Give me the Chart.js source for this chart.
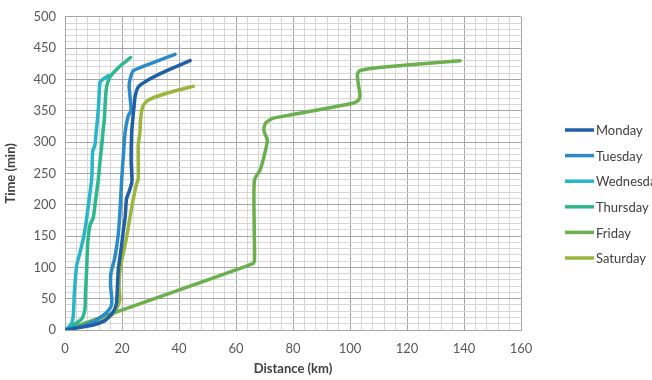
<!DOCTYPE html>
<html>
<head>
<meta charset="utf-8">
<script src="https://cdn.jsdelivr.net/npm/chart.js@4"></script>
<style>
html,body{margin:0;padding:0;background:#fff;overflow:hidden;}
#wrap{width:652px;height:380px;position:relative;}
</style>
</head>
<body>
<div id="wrap"><canvas id="c" width="652" height="380"></canvas></div>
<script>
// ---- data (distance km, time min) ----
const seriesNames = ["Monday","Tuesday","Wednesday","Thursday","Friday","Saturday"];
const seriesColors = ["#1f5fa6","#2b8bc8","#27b5c8","#2cb78c","#6ab04c","#9bb53d"];

const mondayDist = [0,5,9.9,14,15.8,17.3,18.1,18.4,18.7,19.3,19.9,20.5,21.1,21.4,21.6,22.8,23.5,23.2,23.4,24.0,24.3,24.6,25.7,28.7,35.7,43.9];
const mondayTime = [0,4,8,15,23,32,44,70,96,117,137,160,179,200,210,225,238,270,316,347,360,373,388,398,414,430];

const tuesdayDist = [0,5,9.9,13,14.6,16.2,16.4,16.0,16.1,17.5,18.7,19.3,19.9,20.5,21.1,22.2,23.2,22.8,22.5,22.8,24.0,31.0,38.6];
const tuesdayTime = [0,5,13,22,28,38,50,70,90,116,153,190,241,280,316,342,350,373,390,400,414,427,440];

const wednesdayDist = [0,0.6,2.3,2.9,3.3,4.1,4.7,5.6,6.4,7.5,8.5,9.4,9.7,10.5,10.9,11.3,11.8,12.0,12.3,13.5,15.2];
const wednesdayTime = [0,2,10,23,60,103,114,130,145,175,210,243,285,295,315,331,360,378,396,401,406];

const thursdayDist = [0,2.9,5.9,7.0,7.2,7.6,8.0,8.8,9.9,10.8,11.7,12.3,12.9,13.4,13.8,14.2,14.6,15.8,19,23.0];
const thursdayTime = [0,8,18,34,60,96,140,168,179,210,241,270,295,320,336,370,388,404,420,435];

const fridayDist = [0,66,66.5,66.3,66.5,68.4,70,71,70,69.8,70.5,73,80,101,103,103.5,103,102.6,103.5,110,138.6];
const fridayTime = [0,106,112,200,240,255,280,303,315,322,331,338,344,362,367,375,390,408,414,419,430];

const saturdayDist = [0,5,12.3,16,18.1,19.3,19.0,19.1,19.9,20.8,21.6,22.8,24.0,25.1,25.7,25.7,26.3,26.5,27.3,29.2,35.7,45.0];
const saturdayTime = [0,5,13,22,34,49,65,85,111,130,148,180,210,233,241,295,316,336,357,367,378,389];

const xTickLabels = [0,20,40,60,80,100,120,140,160];
const yTickLabels = [0,50,100,150,200,250,300,350,400,450,500];

const allDist = [mondayDist,tuesdayDist,wednesdayDist,thursdayDist,fridayDist,saturdayDist];
const allTime = [mondayTime,tuesdayTime,wednesdayTime,thursdayTime,fridayTime,saturdayTime];

const datasets = seriesNames.map((name,i)=>({
  label: name,
  data: allDist[i].map((d,j)=>({x:d,y:allTime[i][j]})),
  borderColor: seriesColors[i],
  backgroundColor: seriesColors[i],
  borderWidth: 3.5,
  showLine: true,
  pointRadius: 0,
  tension: 0.2,
  borderJoinStyle: 'round',
  borderCapStyle: 'round',
  fill: false
}));

const legendPlugin = {
  id: 'sideLegend',
  afterDraw(chart){
    const ctx = chart.ctx;
    ctx.save();
    ctx.font = '13px Lato';
    ctx.textBaseline = 'middle';
    ctx.textAlign = 'left';
    chart.data.datasets.forEach((ds,i)=>{
      const y = 130 + i*25.6;
      ctx.strokeStyle = ds.borderColor;
      ctx.lineWidth = 3.5;
      ctx.lineCap = 'butt';
      ctx.beginPath();
      ctx.moveTo(565,y);
      ctx.lineTo(594,y);
      ctx.stroke();
      ctx.fillStyle = '#404040';
      ctx.fillText(ds.label, 596, y+1);
    });
    ctx.restore();
  }
};

Chart.defaults.font.family = 'Lato';
Chart.defaults.color = '#595959';

new Chart(document.getElementById('c'), {
  type: 'scatter',
  data: { datasets },
  plugins: [legendPlugin],
  options: {
    responsive: false,
    animation: false,
    layout: { padding: { top: 8, right: 131, left: 0, bottom: 0 } },
    plugins: { legend: { display: false }, tooltip: { enabled: false } },
    scales: {
      x: {
        type: 'linear', min: 0, max: 160,
        afterFit(s){ s.height = 50; },
        ticks: {
          stepSize: 4, autoSkip: false, maxRotation: 0, padding: 11,
          font: { size: 13 }, color: '#595959',
          callback: v => xTickLabels.includes(v) ? String(v) : ''
        },
        grid: {
          drawTicks: false,
          color: c => (c.tick && c.tick.value % 20 === 0) ? '#a6a6a6' : '#d6d6d6',
          lineWidth: 1
        },
        border: { color: '#a6a6a6' },
        title: { display: true, text: 'Distance (km)', font: { size: 13, weight: 'bold' }, color: '#404040', padding: { top: 4, bottom: 3 } }
      },
      y: {
        type: 'linear', min: 0, max: 500,
        afterFit(s){ s.width = 65; },
        ticks: {
          stepSize: 10, autoSkip: false, padding: 9,
          font: { size: 13 }, color: '#595959',
          callback: v => yTickLabels.includes(v) ? String(v) : ''
        },
        grid: {
          drawTicks: false,
          color: c => (c.tick && c.tick.value % 50 === 0) ? '#a6a6a6' : '#d6d6d6',
          lineWidth: 1
        },
        border: { color: '#a6a6a6' },
        title: { display: true, text: 'Time (min)', font: { size: 13, weight: 'bold' }, color: '#404040', padding: { top: 3, bottom: 4 } }
      }
    }
  }
});
</script>
</body>
</html>
